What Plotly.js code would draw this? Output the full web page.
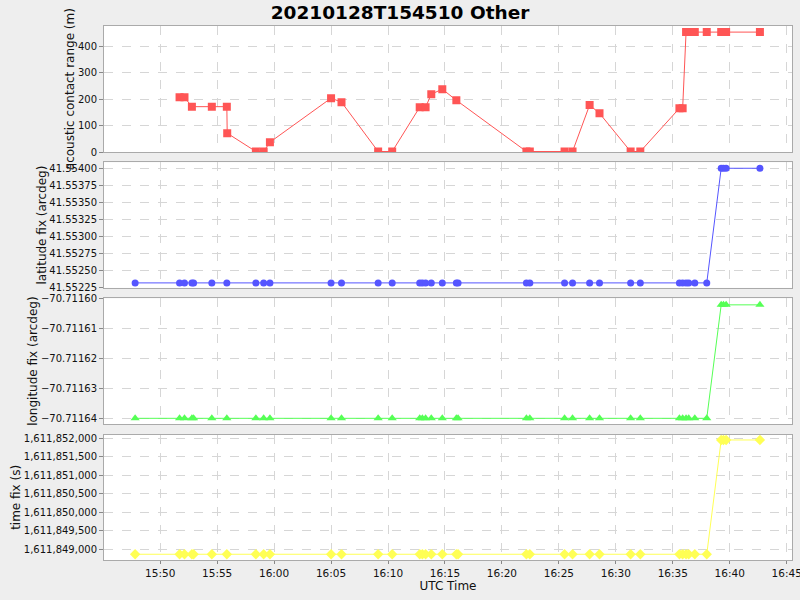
<!DOCTYPE html>
<html>
<head>
<meta charset="utf-8">
<script src="https://cdn.plot.ly/plotly-3.0.1.min.js"></script>
<style>
  html, body { margin: 0; padding: 0; background: #eeeeee; }
  #chart { width: 800px; height: 600px; }
</style>
</head>
<body>
<div id="chart"></div>
<script>
// ---- data ----
const fixTimes = [
  '2021-01-28 15:47:48', '2021-01-28 15:51:42', '2021-01-28 15:52:08', '2021-01-28 15:52:47',
  '2021-01-28 15:52:56', '2021-01-28 15:54:32', '2021-01-28 15:55:51', '2021-01-28 15:58:24',
  '2021-01-28 15:59:05', '2021-01-28 15:59:38', '2021-01-28 16:05:00', '2021-01-28 16:05:55',
  '2021-01-28 16:09:08', '2021-01-28 16:10:22', '2021-01-28 16:12:47', '2021-01-28 16:13:01',
  '2021-01-28 16:13:18', '2021-01-28 16:13:48', '2021-01-28 16:14:46', '2021-01-28 16:16:00',
  '2021-01-28 16:16:09', '2021-01-28 16:22:09', '2021-01-28 16:22:27', '2021-01-28 16:25:30',
  '2021-01-28 16:26:12', '2021-01-28 16:27:42', '2021-01-28 16:28:34', '2021-01-28 16:31:18',
  '2021-01-28 16:32:09', '2021-01-28 16:35:35', '2021-01-28 16:35:52', '2021-01-28 16:36:10',
  '2021-01-28 16:36:24', '2021-01-28 16:36:56', '2021-01-28 16:37:59', '2021-01-28 16:39:15',
  '2021-01-28 16:39:27', '2021-01-28 16:39:41', '2021-01-28 16:42:39'
];
const latitudeFix = [
  41.552318, 41.552318, 41.552318, 41.552318, 41.552318, 41.552318, 41.552318, 41.552318,
  41.552318, 41.552318, 41.552318, 41.552318, 41.552318, 41.552318, 41.552318, 41.552318,
  41.552318, 41.552318, 41.552318, 41.552318, 41.552318, 41.552318, 41.552318, 41.552318,
  41.552318, 41.552318, 41.552318, 41.552318, 41.552318, 41.552318, 41.552318, 41.552318,
  41.552318, 41.552318, 41.552318, 41.554000, 41.554000, 41.554000, 41.554000
];
const longitudeFix = [
  -70.711640, -70.711640, -70.711640, -70.711640, -70.711640, -70.711640, -70.711640, -70.711640,
  -70.711640, -70.711640, -70.711640, -70.711640, -70.711640, -70.711640, -70.711640, -70.711640,
  -70.711640, -70.711640, -70.711640, -70.711640, -70.711640, -70.711640, -70.711640, -70.711640,
  -70.711640, -70.711640, -70.711640, -70.711640, -70.711640, -70.711640, -70.711640, -70.711640,
  -70.711640, -70.711640, -70.711640, -70.711602, -70.711602, -70.711602, -70.711602
];
const timeFix = [
  1611848866, 1611848866, 1611848866, 1611848866, 1611848866, 1611848866, 1611848866, 1611848866,
  1611848866, 1611848866, 1611848866, 1611848866, 1611848866, 1611848866, 1611848866, 1611848866,
  1611848866, 1611848866, 1611848866, 1611848866, 1611848866, 1611848866, 1611848866, 1611848866,
  1611848866, 1611848866, 1611848866, 1611848866, 1611848866, 1611848866, 1611848866, 1611848866,
  1611848866, 1611848866, 1611848866, 1611851955, 1611851955, 1611851955, 1611851955
];
const rangeTimes = [
  '2021-01-28 15:51:42', '2021-01-28 15:52:08', '2021-01-28 15:52:47', '2021-01-28 15:54:32',
  '2021-01-28 15:55:51', '2021-01-28 15:55:53', '2021-01-28 15:58:24', '2021-01-28 15:59:05',
  '2021-01-28 15:59:38', '2021-01-28 16:05:00', '2021-01-28 16:05:55', '2021-01-28 16:09:08',
  '2021-01-28 16:10:22', '2021-01-28 16:12:47', '2021-01-28 16:13:18', '2021-01-28 16:13:48',
  '2021-01-28 16:14:46', '2021-01-28 16:16:00', '2021-01-28 16:22:09', '2021-01-28 16:22:27',
  '2021-01-28 16:25:30', '2021-01-28 16:26:12', '2021-01-28 16:27:42', '2021-01-28 16:28:34',
  '2021-01-28 16:31:18', '2021-01-28 16:32:09', '2021-01-28 16:35:35', '2021-01-28 16:35:52',
  '2021-01-28 16:36:10', '2021-01-28 16:36:24', '2021-01-28 16:36:56', '2021-01-28 16:37:59',
  '2021-01-28 16:39:15', '2021-01-28 16:39:27', '2021-01-28 16:39:41', '2021-01-28 16:42:39'
];
const rangeValues = [
  207, 207, 172, 172, 172, 72, 3, 3, 38, 204, 189, 3, 3, 170, 170, 219, 238, 196,
  3, 3, 3, 3, 178, 147, 3, 3, 166, 166, 453, 453, 453, 453, 453, 453, 453, 453
];
const chartTitle = '20210128T154510 Other';
const yTitles = ['acoustic contact range (m)', 'latitude fix (arcdeg)', 'longitude fix (arcdeg)', 'time fix (s)'];
const xTitle = 'UTC Time';

// ---- chart ----
const FONT = 'DejaVu Sans, sans-serif';
const traces = [
  { x: rangeTimes, y: rangeValues, xaxis: 'x', yaxis: 'y', type: 'scatter', mode: 'lines+markers',
    line: { color: '#ff5555', width: 1 }, marker: { symbol: 'square', size: 8, color: '#ff5555' } },
  { x: fixTimes, y: latitudeFix, xaxis: 'x2', yaxis: 'y2', type: 'scatter', mode: 'lines+markers',
    line: { color: '#5555ff', width: 1 }, marker: { symbol: 'circle', size: 7, color: '#5555ff' } },
  { x: fixTimes, y: longitudeFix, xaxis: 'x3', yaxis: 'y3', type: 'scatter', mode: 'lines+markers',
    line: { color: '#55ff55', width: 1 }, marker: { symbol: 'triangle-up', size: 8, color: '#55ff55' } },
  { x: fixTimes, y: timeFix, xaxis: 'x4', yaxis: 'y4', type: 'scatter', mode: 'lines+markers',
    line: { color: '#ffff55', width: 1 }, marker: { symbol: 'diamond', size: 8, color: '#ffff55' } }
];

const xRange = ['2021-01-28 15:45:04', '2021-01-28 16:45:28'];
function xAxis(anchor, showLabels) {
  return {
    type: 'date', range: xRange, anchor: anchor, domain: [0, 1],
    dtick: 300000, tick0: '2021-01-28 15:50:00', tickformat: '%H:%M',
    showticklabels: showLabels, ticks: showLabels ? 'outside' : '', ticklen: 3, tickcolor: '#888',
    ticklabeloverflow: 'allow',
    showgrid: true, gridcolor: '#d6d6d6', griddash: 'dash', gridwidth: 1,
    showline: true, linecolor: '#aaaaaa', linewidth: 1, mirror: true, zeroline: false,
    tickfont: { family: FONT, size: 10.5, color: '#111' },
    title: showLabels ? { text: xTitle, font: { family: FONT, size: 12, color: '#111' }, standoff: 2 } : { text: '' }
  };
}
function yAxis(anchor, domain, range, dtick, fmt, title) {
  return {
    anchor: anchor, domain: domain, range: range, dtick: dtick, tickformat: fmt,
    ticks: 'outside', ticklen: 4, tickcolor: '#888',
    showgrid: true, gridcolor: '#d6d6d6', griddash: 'dash', gridwidth: 1,
    showline: true, linecolor: '#aaaaaa', linewidth: 1, mirror: true, zeroline: false,
    tickfont: { family: FONT, size: 10, color: '#111' },
    title: { text: title, font: { family: FONT, size: 12, color: '#111' }, standoff: 0 }
  };
}

const layout = {
  width: 800, height: 600,
  paper_bgcolor: '#eeeeee', plot_bgcolor: '#ffffff',
  margin: { l: 104, r: 8, t: 26, b: 40 },
  showlegend: false,
  font: { family: FONT, size: 11, color: '#111' },
  title: { text: '<b>' + chartTitle + '</b>', font: { family: FONT, size: 18.5, color: '#000' },
           x: 0.5, xanchor: 'center', y: 0.979, yref: 'container', yanchor: 'middle' },
  xaxis: xAxis('y', false),
  xaxis2: xAxis('y2', false),
  xaxis3: xAxis('y3', false),
  xaxis4: xAxis('y4', true),
  yaxis: yAxis('x', [0.7635, 1.0], [0, 476], 100, 'd', yTitles[0]),
  yaxis2: yAxis('x2', [0.5096, 0.7448], [41.552245, 41.554088], 0.00025, '.5f', yTitles[1]),
  yaxis3: yAxis('x3', [0.2547, 0.4901], [-70.7116419, -70.7115998], 0.00001, '.5f', yTitles[2]),
  yaxis4: yAxis('x4', [0, 0.2346], [1611848711, 1611852097], 500, ',d', yTitles[3])
};

Plotly.newPlot('chart', traces, layout, { displayModeBar: false, staticPlot: true });
</script>
</body>
</html>
